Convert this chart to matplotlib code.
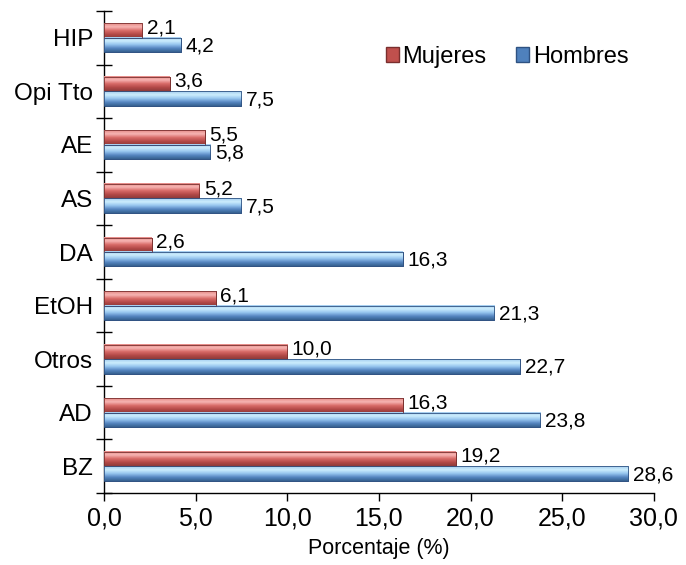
import matplotlib
matplotlib.use("Agg")
import matplotlib.pyplot as plt
import numpy as np
from matplotlib.colors import LinearSegmentedColormap
from matplotlib.patches import Patch

categorias = ["BZ", "AD", "Otros", "EtOH", "DA", "AS", "AE", "Opi Tto", "HIP"]
mujeres = [19.2, 16.3, 10.0, 6.1, 2.6, 5.2, 5.5, 3.6, 2.1]
hombres = [28.6, 23.8, 22.7, 21.3, 16.3, 7.5, 5.8, 7.5, 4.2]
xticks = [0, 5, 10, 15, 20, 25, 30]

plt.rcParams["font.family"] = ["Liberation Sans", "DejaVu Sans"]

fig = plt.figure(figsize=(6.86, 5.65), dpi=100)
ax = fig.add_axes([0.1516, 0.1274, 0.953 - 0.1516, 0.9805 - 0.1274])

# degradados tipo "3D"
cm_red = LinearSegmentedColormap.from_list(
    "r", ["#8e3b3a", "#b44a48", "#d96c69", "#f7b5b3", "#e48986"])
cm_blue = LinearSegmentedColormap.from_list(
    "b", ["#36618f", "#5585c0", "#95c4ee", "#ccedfd", "#a3ccef"])

y = np.arange(len(categorias))
h = 0.27
grad = np.linspace(0, 1, 64).reshape(-1, 1)

bars_m = ax.barh(y + h / 2, mujeres, height=h, color="#c0504d",
                 edgecolor="#7a2f2e", linewidth=0.6, zorder=2)
bars_h = ax.barh(y - h / 2, hombres, height=h, color="#4f81bd",
                 edgecolor="#2f5282", linewidth=0.6, zorder=2)

for bars, cmap in [(bars_m, cm_red), (bars_h, cm_blue)]:
    for b in bars:
        x0, y0 = b.get_x(), b.get_y()
        w, hh = b.get_width(), b.get_height()
        ax.imshow(grad, extent=[x0, x0 + w, y0, y0 + hh], aspect="auto",
                  cmap=cmap, origin="lower", zorder=3)
        ax.add_patch(plt.Rectangle((x0, y0), w, hh, fill=False,
                                   edgecolor=b.get_edgecolor(), linewidth=0.6, zorder=4))

for bars, vals, dy in [(bars_m, mujeres, 0.05), (bars_h, hombres, -0.02)]:
    for b, v in zip(bars, vals):
        ax.text(b.get_width() + 0.25, b.get_y() + b.get_height() / 2 + dy,
                f"{v:.1f}".replace(".", ","), va="center", ha="left",
                fontsize=15, zorder=5)

ax.set_xlim(0, 30)
ax.set_ylim(-0.5, len(categorias) - 0.5)
ax.set_xticks(xticks)
ax.set_xticklabels([f"{t:.1f}".replace(".", ",") for t in xticks], fontsize=18)
ax.set_yticks(y)
ax.set_yticklabels(categorias, fontsize=17.5)
ax.tick_params(axis="y", length=0, pad=8)
ax.set_yticks(np.arange(-0.5, len(categorias)), minor=True)
ax.tick_params(axis="y", which="minor", length=11, direction="inout", width=1)
ax.tick_params(axis="x", length=6, direction="out", width=1, pad=4)
ax.set_xlabel("Porcentaje (%)", fontsize=15.5, labelpad=5)

for s in ["top", "right"]:
    ax.spines[s].set_visible(False)
ax.spines["left"].set_linewidth(1)
ax.spines["bottom"].set_linewidth(1)

handles = [Patch(facecolor="#c0504d", edgecolor="#7a2f2e", label="Mujeres"),
           Patch(facecolor="#4f81bd", edgecolor="#2f5282", label="Hombres")]
ax.legend(handles=handles, loc="center left", bbox_to_anchor=(0.513, 0.905),
          ncol=2, frameon=False, fontsize=17, handlelength=0.55,
          handleheight=0.55, handletextpad=0.15, columnspacing=1.25,
          borderpad=0, borderaxespad=0)

fig.savefig("out.png", dpi=100)
